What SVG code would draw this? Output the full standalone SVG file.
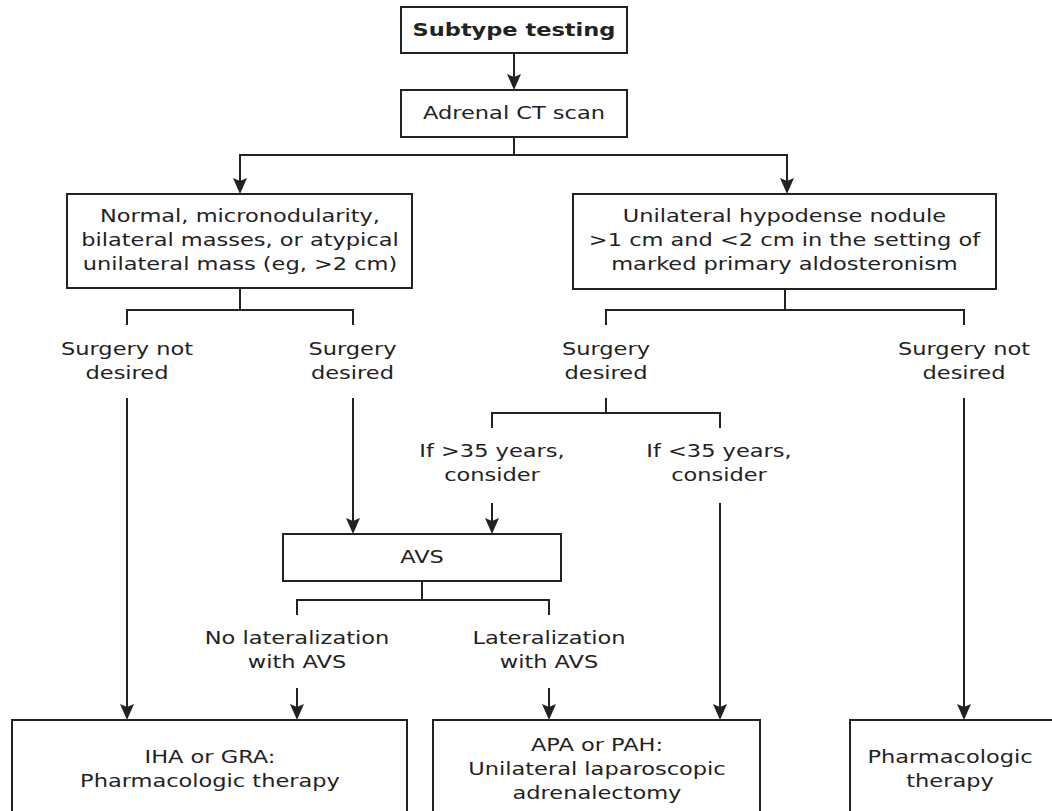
<svg xmlns="http://www.w3.org/2000/svg" width="1052" height="811" viewBox="0 0 1052 811">
<style>
.box{fill:#fff;stroke:#222;stroke-width:2}
.ln{fill:none;stroke:#222;stroke-width:2}
.ar{marker-end:url(#ah)}
text{font-family:"DejaVu Sans",Verdana,sans-serif;font-size:18px;fill:#222;text-anchor:middle}
.b{font-weight:bold}
</style>
<defs>
<marker id="ah" markerUnits="userSpaceOnUse" markerWidth="16" markerHeight="14" viewBox="0 0 16 14" refX="12" refY="7" orient="auto">
<path d="M0,0 L16,7 L0,14 L3,7 Z" fill="#222"/>
</marker>
</defs>
<rect width="1052" height="811" fill="#fff"/>
<g id="connectors">
<path class="ln ar" d="M514,53 V86"/>
<path class="ln" d="M514,137 V155"/>
<path class="ln ar" d="M514,155 H240 V190"/>
<path class="ln ar" d="M514,155 H787 V190"/>
<path class="ln" d="M240,288 V310"/>
<path class="ln" d="M127,325 V310 H353 V325"/>
<path class="ln" d="M785,289 V310"/>
<path class="ln" d="M606,325 V310 H964 V325"/>
<path class="ln ar" d="M127,398 V716"/>
<path class="ln ar" d="M353,398 V530"/>
<path class="ln ar" d="M964,398 V716"/>
<path class="ln" d="M606,398 V413"/>
<path class="ln" d="M492,428 V413 H720 V428"/>
<path class="ln ar" d="M492,503 V530"/>
<path class="ln ar" d="M720,503 V716"/>
<path class="ln" d="M422,581 V600"/>
<path class="ln" d="M297,615 V600 H549 V615"/>
<path class="ln ar" d="M297,688 V716"/>
<path class="ln ar" d="M549,688 V716"/>
</g>
<g id="subtype">
<rect class="box" x="401" y="7" width="226" height="46"/>
<text class="b" transform="scale(1.25 1)" x="411.2" y="36">Subtype testing</text>
</g>
<g id="ct">
<rect class="box" x="401" y="90" width="226" height="47"/>
<text transform="scale(1.25 1)" x="411.2" y="119">Adrenal CT scan</text>
</g>
<g id="normal">
<rect class="box" x="67" y="194" width="345" height="94"/>
<text transform="scale(1.25 1)" x="192" y="222">Normal, micronodularity,</text>
<text transform="scale(1.25 1)" x="192" y="246">bilateral masses, or atypical</text>
<text transform="scale(1.25 1)" x="192" y="270">unilateral mass (eg, &gt;2 cm)</text>
</g>
<g id="nodule">
<rect class="box" x="573" y="194" width="423" height="95"/>
<text transform="scale(1.25 1)" x="627.6" y="222">Unilateral hypodense nodule</text>
<text transform="scale(1.25 1)" x="627.6" y="246">&gt;1 cm and &lt;2 cm in the setting of</text>
<text transform="scale(1.25 1)" x="627.6" y="270">marked primary aldosteronism</text>
</g>
<g id="lbl-left-notdesired">
<text transform="scale(1.25 1)" x="101.6" y="355">Surgery not</text>
<text transform="scale(1.25 1)" x="101.6" y="379">desired</text>
</g>
<g id="lbl-left-desired">
<text transform="scale(1.25 1)" x="282" y="355">Surgery</text>
<text transform="scale(1.25 1)" x="282" y="379">desired</text>
</g>
<g id="lbl-right-desired">
<text transform="scale(1.25 1)" x="484.8" y="355">Surgery</text>
<text transform="scale(1.25 1)" x="484.8" y="379">desired</text>
</g>
<g id="lbl-right-notdesired">
<text transform="scale(1.25 1)" x="771.2" y="355">Surgery not</text>
<text transform="scale(1.25 1)" x="771.2" y="379">desired</text>
</g>
<g id="lbl-over35">
<text transform="scale(1.25 1)" x="393.6" y="457">If &gt;35 years,</text>
<text transform="scale(1.25 1)" x="393.6" y="481">consider</text>
</g>
<g id="lbl-under35">
<text transform="scale(1.25 1)" x="575.2" y="457">If &lt;35 years,</text>
<text transform="scale(1.25 1)" x="575.2" y="481">consider</text>
</g>
<g id="avs">
<rect class="box" x="283" y="534" width="278" height="47"/>
<text transform="scale(1.25 1)" x="337.6" y="563">AVS</text>
</g>
<g id="lbl-nolat">
<text transform="scale(1.25 1)" x="237.6" y="644">No lateralization</text>
<text transform="scale(1.25 1)" x="237.6" y="668">with AVS</text>
</g>
<g id="lbl-lat">
<text transform="scale(1.25 1)" x="439.2" y="644">Lateralization</text>
<text transform="scale(1.25 1)" x="439.2" y="668">with AVS</text>
</g>
<g id="iha">
<rect class="box" x="12" y="720" width="395" height="110"/>
<text transform="scale(1.25 1)" x="168" y="763">IHA or GRA:</text>
<text transform="scale(1.25 1)" x="168" y="787">Pharmacologic therapy</text>
</g>
<g id="apa">
<rect class="box" x="433" y="720" width="327" height="110"/>
<text transform="scale(1.25 1)" x="477.6" y="751">APA or PAH:</text>
<text transform="scale(1.25 1)" x="477.6" y="775">Unilateral laparoscopic</text>
<text transform="scale(1.25 1)" x="477.6" y="799">adrenalectomy</text>
</g>
<g id="pharm">
<rect class="box" x="850" y="720" width="220" height="110"/>
<text transform="scale(1.25 1)" x="760" y="763">Pharmacologic</text>
<text transform="scale(1.25 1)" x="760" y="787">therapy</text>
</g>
</svg>
